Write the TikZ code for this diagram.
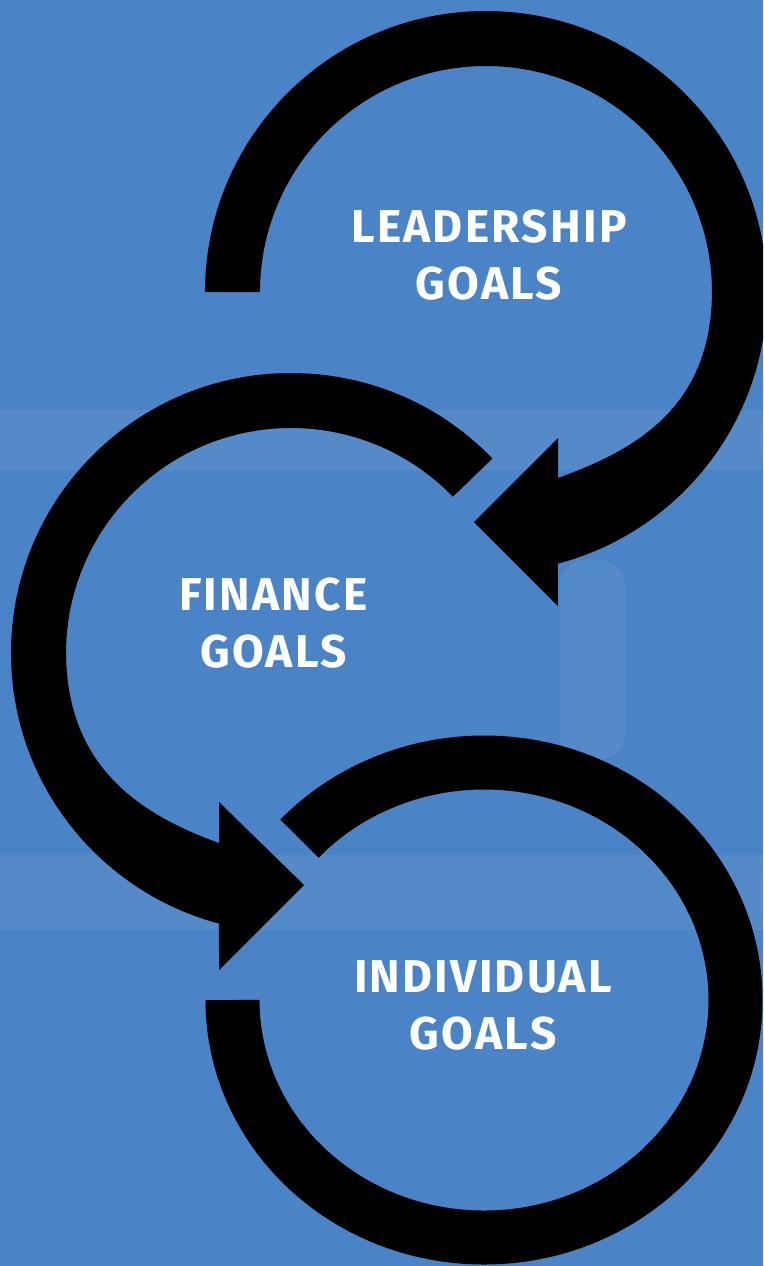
\documentclass[tikz,border=0pt]{standalone}
\usepackage{fontspec}
\setmainfont{Fira Sans}
\newfontfamily\goalfont{Fira Sans}[LetterSpace=5]
\definecolor{wallblue}{HTML}{4B84C6}
\begin{document}
\begin{tikzpicture}[x=1pt,y=-1pt,
    goal/.style={text=white,font=\goalfont\fontsize{46}{57}\selectfont\bfseries,align=center},
    band/.style={fill=black},
    mortar/.style={fill=white,opacity=0.05,rounded corners=25pt}]
  \clip (0,0) rectangle (763,1266);
  \fill[wallblue] (0,0) rectangle (763,1266);
  % pale joints of the brick wall
  \fill[mortar] (-30,410) rectangle (793,470);
  \fill[mortar] (-30,855) rectangle (793,930);
  \fill[mortar] (560,560) rectangle (625,760);
  % top loop, head pointing left
  \fill[band] (205,292) arc[start angle=180,end angle=435.2,radius=281]
    -- (558,606) -- (474,522) -- (558,438) -- (558,478)
    .. controls (633.2,450.8) and (702.4,411.3) .. (711.1,311.7)
    arc[start angle=365,end angle=180,radius=226] -- cycle;
  % middle loop, head pointing right
  \fill[band] (492.4,458.5) arc[start angle=-44,end angle=-255.1,radius=280]
    -- (219,970) -- (304,885) -- (219,802) -- (219,843)
    .. controls (143.8,815.8) and (75.6,772.2) .. (66.9,672.6)
    arc[start angle=175,end angle=316,radius=225] -- cycle;
  % bottom loop, open ring
  \draw[black,line width=54pt] (232.5,1000)
    arc[start angle=180,end angle=-137.2,x radius=251.5,y radius=237.5];
  \node[goal] (leadership) at (489,255) {LEADERSHIP\\GOALS};
  \node[goal] (finance) at (273.5,623.5) {FINANCE\\GOALS};
  \node[goal] (individual) at (483,1005) {INDIVIDUAL\\GOALS};
\end{tikzpicture}
\end{document}
